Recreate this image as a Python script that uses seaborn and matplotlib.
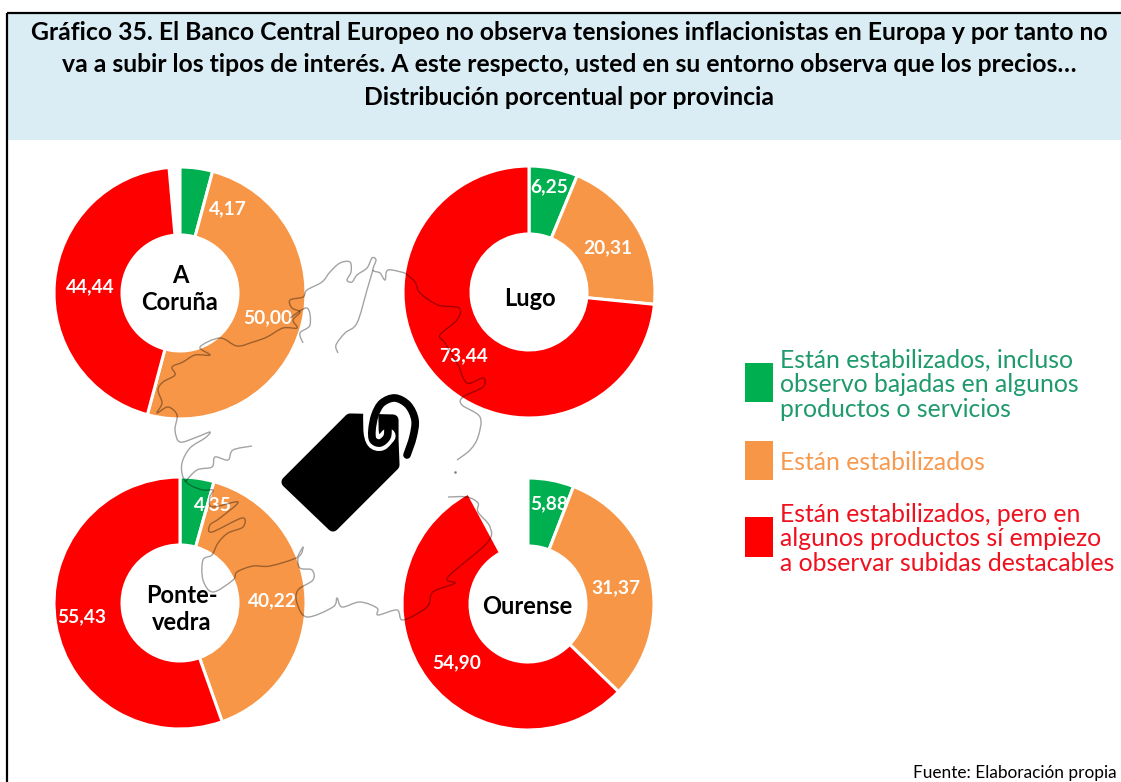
import matplotlib
matplotlib.use("Agg")
import matplotlib.pyplot as plt
import numpy as np
import seaborn as sns
from matplotlib.patches import Rectangle, Polygon, PathPatch
from matplotlib.path import Path

# ---------- data ----------
provinces = ["A\nCoruña", "Lugo", "Ponte-\nvedra", "Ourense"]
green_values = [4.17, 6.25, 4.35, 5.88]
orange_values = [50.00, 20.31, 40.22, 31.37]
red_values = [44.44, 73.44, 55.43, 54.90]
legend_labels = [
    "Están estabilizados, incluso\nobservo bajadas en algunos\nproductos o servicios",
    "Están estabilizados",
    "Están estabilizados, pero en\nalgunos productos sí empiezo\na observar subidas destacables",
]
title_text = ("Gráfico 35. El Banco Central Europeo no observa tensiones inflacionistas en Europa y por tanto no\n"
              "va a subir los tipos de interés. A este respecto, usted en su entorno observa que los precios…\n"
              "Distribución porcentual por provincia")
source_text = "Fuente: Elaboración propia"

# ---------- layout (pixels of the 1121x782 picture) ----------
W, H = 1121, 782
centres = [(180, 293), (529, 292), (180, 603), (528, 604)]
name_pos = [(180, 289), (530, 298), (182, 609), (527, 607)]
label_pos = [[(228, 209), (268, 318), (90, 287)],
             [(549, 187), (608, 248), (463, 356)],
             [(213, 505), (272, 601), (82, 617)],
             [(549, 504), (616, 588), (457, 663)]]
R_OUT, R_IN = 126, 58
fill_colors = sns.color_palette(["#00B050", "#F79646", "#FF0000"])
text_colors = ["#1E9A6C", "#F79A50", "#F0101E"]
legend_box_y = [(363, 402), (441, 480), (517, 557)]
legend_text_y = [385, 462, 539]

# decorative outline of Galicia behind the charts
coast_x = [405, 388, 385, 380, 373, 376, 372, 367, 357, 352, 347, 351, 350, 340, 330, 322, 307, 303, 290, 292, 300, 293, 297, 283, 267, 253, 237, 220, 200, 210, 195, 183, 172, 175, 163, 158, 162, 157, 168, 177, 175, 180, 197, 210, 205, 190, 182, 183, 190, 203, 213, 210, 212, 238, 220, 210, 212, 242, 243, 228, 218, 212, 203, 203, 213, 233, 237, 253, 270, 298, 303, 298, 300, 312, 313, 298, 297, 307, 333, 337, 342, 360, 377, 378, 397, 403, 427, 433, 455, 448, 487, 490, 478, 478, 467, 448]
coast_y = [273, 270, 280, 273, 270, 260, 258, 268, 275, 282, 280, 272, 262, 263, 272, 282, 290, 297, 300, 308, 312, 320, 328, 328, 337, 342, 346, 338, 347, 355, 355, 362, 367, 375, 382, 390, 403, 413, 407, 415, 430, 442, 437, 432, 438, 448, 463, 477, 485, 490, 490, 497, 507, 502, 518, 525, 532, 518, 527, 533, 543, 555, 560, 580, 592, 580, 572, 566, 566, 557, 547, 557, 568, 570, 580, 590, 603, 617, 607, 598, 607, 602, 608, 615, 610, 620, 607, 592, 583, 577, 543, 527, 512, 503, 497, 497]
east_x = [405, 415, 420, 438, 459, 457, 440, 445, 458, 467, 483, 483, 463, 462, 480, 478, 470, 457]
east_y = [273, 282, 293, 305, 308, 320, 335, 343, 365, 383, 378, 387, 397, 405, 417, 437, 450, 460]
ria1_x = [338, 336, 345, 357, 367, 372, 373]
ria1_y = [353, 345, 333, 323, 290, 273, 270]
ria2_x = [252, 233, 228, 215, 212, 197, 185]
ria2_y = [446, 450, 460, 457, 467, 470, 482]
ria3_x = [303, 300, 310, 307, 290]
ria3_y = [343, 333, 325, 308, 318]

# price tag icon
tag_x = [350, 393, 393, 394, 333, 287]
tag_y = [419, 420, 440, 465, 526, 482]
slot_x = [371, 371, 374, 381, 388]
slot_y = [408, 430, 441, 443, 436]
loop_x = [407, 413, 415, 408, 395, 382, 375, 372, 373, 380, 387, 388, 388]
loop_y = [455, 437, 420, 405, 398, 403, 415, 430, 440, 443, 437, 427, 419]

# ---------- drawing ----------
sns.set_theme(style="white")
plt.rcParams["font.family"] = ["Lato", "DejaVu Sans"]
fig = plt.figure(figsize=(W / 100, H / 100), dpi=100, facecolor="white")
ax = fig.add_axes([0, 0, 1, 1])


def Y(py):
    return H - py


def smooth_path(xs, ys):
    """Catmull-Rom style Bezier path through the given pixel points."""
    pts = np.column_stack([xs, [Y(v) for v in ys]]).astype(float)
    verts, codes = [pts[0]], [Path.MOVETO]
    for i in range(len(pts) - 1):
        p0 = pts[max(i - 1, 0)]
        p1, p2 = pts[i], pts[i + 1]
        p3 = pts[min(i + 2, len(pts) - 1)]
        verts += [p1 + (p2 - p0) / 6, p2 - (p3 - p1) / 6, p2]
        codes += [Path.CURVE4] * 3
    return Path(verts, codes)


for name, c, np_, g, o, r, pos in zip(provinces, centres, name_pos, green_values, orange_values, red_values, label_pos):
    vals = [g, o, r]
    ax.pie([v / 100 for v in vals], colors=fill_colors, center=(c[0], Y(c[1])), radius=R_OUT,
           startangle=90, counterclock=False, normalize=False,
           wedgeprops=dict(width=R_OUT - R_IN, edgecolor="white", linewidth=2.2))
    for v, p in zip(vals, pos):
        ax.text(p[0], Y(p[1]), f"{v:.2f}".replace(".", ","), color="white", fontsize=13.8,
                fontweight="bold", ha="center", va="center", zorder=4)
    ax.text(np_[0], Y(np_[1]), name, color="black", fontsize=17, fontweight="bold",
            ha="center", va="center", linespacing=1.22, zorder=4)

ax.set_xlim(0, W)
ax.set_ylim(0, H)
ax.set_aspect("auto")
ax.axis("off")

# title band and frame
ax.add_patch(Rectangle((7, Y(140)), W - 7, 127, facecolor="#DAEDF4", edgecolor="none", zorder=0))
ax.plot([7, W], [Y(13), Y(13)], color="black", lw=1.6, zorder=5, solid_capstyle="butt")
ax.plot([7, 7], [Y(13), 0], color="black", lw=1.6, zorder=5, solid_capstyle="butt")
ax.text(569, Y(65), title_text, color="black", fontsize=17.8, fontweight="bold",
        ha="center", va="center", linespacing=1.5, zorder=5)
ax.text(1117, Y(773), source_text, color="black", fontsize=12.4, ha="right", va="center")

# map outline
for xs, ys in [(coast_x, coast_y), (east_x, east_y), (ria1_x, ria1_y), (ria2_x, ria2_y), (ria3_x, ria3_y)]:
    ax.add_patch(PathPatch(smooth_path(xs, ys), facecolor="none", edgecolor="black", alpha=0.36,
                           lw=1.0, zorder=4.5, joinstyle="round"))
ax.plot([455], [Y(472)], marker="o", ms=1.2, color="black", alpha=0.3, zorder=4.5)

# tag icon
ax.add_patch(Polygon(list(zip(tag_x, [Y(v) for v in tag_y])), closed=True, facecolor="black",
                     edgecolor="black", lw=8, joinstyle="round", zorder=3))
ax.add_patch(PathPatch(smooth_path(slot_x, slot_y), facecolor="none", edgecolor="white", lw=11,
                       capstyle="round", zorder=3.1))
ax.add_patch(PathPatch(smooth_path(loop_x, loop_y), facecolor="none", edgecolor="black", lw=5.5,
                       capstyle="round", zorder=3.2))

# legend
for lab, col, tcol, (y0, y1), ty in zip(legend_labels, fill_colors, text_colors, legend_box_y, legend_text_y):
    ax.add_patch(Rectangle((745, Y(y1)), 28, y1 - y0, facecolor=col, edgecolor="none"))
    ax.text(780, Y(ty), lab, color=tcol, fontsize=17.8, ha="left", va="center", linespacing=1.1)

fig.savefig("out.png", dpi=100, facecolor="white")
